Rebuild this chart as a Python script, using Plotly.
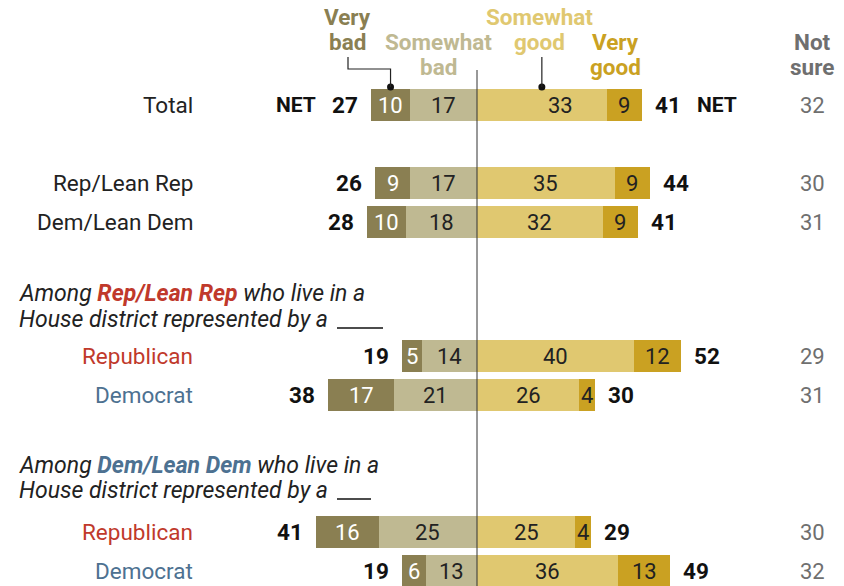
import plotly.graph_objects as go

# ---- data ----
rows = ["Total", "Rep/Lean Rep", "Dem/Lean Dem", "Republican", "Democrat", "Republican", "Democrat"]
very_bad = [10, 9, 10, 5, 17, 16, 6]
somewhat_bad = [17, 17, 18, 14, 21, 25, 13]
somewhat_good = [33, 35, 32, 40, 26, 25, 36]
very_good = [9, 9, 9, 12, 4, 4, 13]
net_bad = [27, 26, 28, 19, 38, 41, 19]
net_good = [41, 44, 41, 52, 30, 29, 49]
not_sure = [32, 30, 31, 29, 31, 30, 32]

# ---- layout constants ----
W, H = 844, 586
CX = 477          # pixel of zero line
PXU = 3.93        # pixels per percentage point
ROW_Y = [105, 183, 222, 356, 395, 532, 571]
BAR_H = 32
FONT = "Roboto"
FS = 22

C_VB = "#8a7f52"
C_SB = "#bfb992"
C_SG = "#e0c870"
C_VG = "#caa122"
C_RED = "#c0392b"
C_BLUE = "#4d7191"
C_GRAY = "#6f6f6f"
row_colors = ["#222222", "#222222", "#222222", C_RED, C_BLUE, C_RED, C_BLUE]


def dx(p):
    return (p - CX) / PXU


fig = go.Figure()

neg_sb = [-v for v in somewhat_bad]
neg_vb = [-v for v in very_bad]
for vals, col in [(neg_sb, C_SB), (neg_vb, C_VB), (somewhat_good, C_SG), (very_good, C_VG)]:
    fig.add_trace(go.Bar(x=vals, y=ROW_Y, orientation="h", width=BAR_H,
                         marker=dict(color=col, line=dict(width=0)),
                         hoverinfo="skip", showlegend=False))

ann = []


def add_text(x, y, text, color="#222222", size=FS, xanchor="center", xshift=0, bold=False):
    if bold:
        text = "<b>" + text + "</b>"
    ann.append(dict(x=x, y=y, xref="x", yref="y", text=text, showarrow=False,
                    xanchor=xanchor, yanchor="middle", xshift=xshift,
                    font=dict(family=FONT, size=size, color=color)))


for i, y in enumerate(ROW_Y):
    sb, vb, sg, vg = somewhat_bad[i], very_bad[i], somewhat_good[i], very_good[i]
    # row label
    add_text(dx(195), y, rows[i], color=row_colors[i], xanchor="right", size=22.5)
    # in-bar values
    add_text(-(sb + vb / 2), y, str(vb), color="white")
    add_text(-sb / 2, y, str(sb))
    add_text(sg / 2, y, str(sg), xshift=19 if i == 0 else 0)
    add_text(sg + vg / 2, y, str(vg))
    # nets
    add_text(-(sb + vb), y, str(net_bad[i]), xanchor="right", xshift=-11, bold=True, color="#111111", size=22.5)
    add_text(sg + vg, y, str(net_good[i]), xanchor="left", xshift=11, bold=True, color="#111111", size=22.5)
    # not sure
    add_text(dx(812), y, str(not_sure[i]), color=C_GRAY)

# NET labels on Total row
add_text(dx(318), ROW_Y[0], "NET", xanchor="right", bold=True, color="#111111", size=21)
add_text(dx(695), ROW_Y[0], "NET", xanchor="left", bold=True, color="#111111", size=21)

# column headers
headers = [
    ("Very", 347, 17, C_VB), ("bad", 347, 42, C_VB),
    ("Somewhat", 438, 42, C_SB), ("bad", 438, 67, C_SB),
    ("Somewhat", 539, 17, C_SG), ("good", 539, 42, C_SG),
    ("Very", 615, 42, C_VG), ("good", 615, 67, C_VG),
    ("Not", 812, 42, C_GRAY), ("sure", 812, 67, C_GRAY),
]
for t, px, py, c in headers:
    add_text(dx(px), py, t, color=c, bold=True, size=22.5)

# group headers
groups = [
    ("Rep/Lean Rep", C_RED, 293, 319, 337, 383),
    ("Dem/Lean Dem", C_BLUE, 465, 490, 337, 371),
]
shapes = []
for name, col, y1, y2, ux0, ux1 in groups:
    add_text(dx(17), y1, "<i>Among <span style='color:%s'><b>%s</b></span> who live in a</i>" % (col, name),
             xanchor="left", size=23)
    add_text(dx(17), y2, "<i>House district represented by a</i>", xanchor="left", size=23)
    shapes.append(dict(type="line", xref="x", yref="y", x0=dx(ux0), x1=dx(ux1), y0=y2 + 9, y1=y2 + 9,
                       line=dict(color="#111111", width=1.5)))

# zero line
shapes.append(dict(type="line", xref="x", yref="y", x0=0, x1=0, y0=70, y1=H,
                   line=dict(color="#333333", width=1)))

# leader lines for Total row
vb_dot_x = -(somewhat_bad[0] + very_bad[0] / 2)
sg_dot_x = somewhat_good[0] / 2
dot_y = ROW_Y[0] - BAR_H / 2 - 2
shapes.append(dict(type="path", xref="x", yref="y",
                   path="M %f,%f L %f,%f L %f,%f L %f,%f" % (dx(348), 57, dx(348), 69, vb_dot_x, 69, vb_dot_x, dot_y),
                   line=dict(color="#222222", width=1.2)))
shapes.append(dict(type="line", xref="x", yref="y", x0=sg_dot_x, x1=sg_dot_x, y0=57, y1=dot_y,
                   line=dict(color="#222222", width=1.2)))
fig.add_trace(go.Scatter(x=[vb_dot_x, sg_dot_x], y=[dot_y, dot_y], mode="markers",
                         marker=dict(color="#111111", size=7), hoverinfo="skip", showlegend=False))

fig.update_layout(
    width=W, height=H, margin=dict(l=0, r=0, t=0, b=0),
    paper_bgcolor="white", plot_bgcolor="white",
    barmode="relative", bargap=0,
    xaxis=dict(range=[dx(0), dx(W)], visible=False, fixedrange=True),
    yaxis=dict(range=[H, 0], visible=False, fixedrange=True),
    annotations=ann, shapes=shapes,
    font=dict(family=FONT, size=FS),
)

fig.write_html("out.html", config={"displayModeBar": False},
               post_script="document.body.style.margin='0';document.body.style.overflow='hidden';")
